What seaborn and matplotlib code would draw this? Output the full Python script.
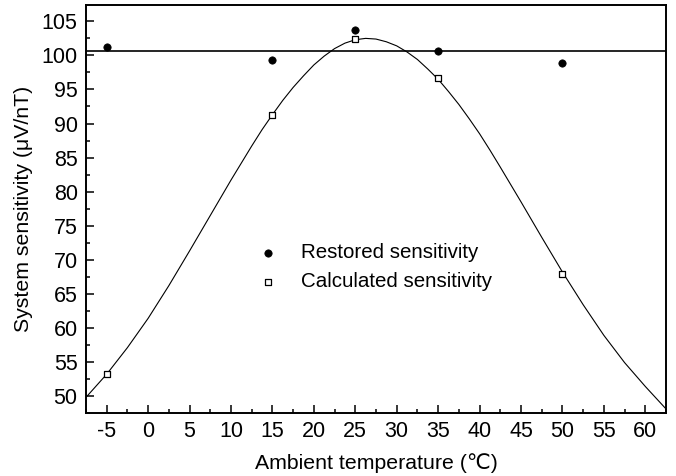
import numpy as np
import pandas as pd
import matplotlib
matplotlib.use('Agg')
import matplotlib.pyplot as plt
import seaborn as sns
from matplotlib.ticker import MultipleLocator

# Measured points
temps = [-5, 15, 25, 35, 50]
restored = [101.2, 99.3, 103.8, 100.7, 98.9]
calculated = [53.2, 91.2, 102.4, 96.7, 67.9]
restored_level = 100.6

# Fitted curve (finer steps around the peak)
fit_temps = [-7.5, -5, -2.5, 0, 2.5, 5, 7.5, 10, 12.5, 13.75, 15, 16.25,
             17.5, 18.75, 20, 21.25, 22.5, 23.75, 25, 26.25, 27.5, 28.75,
             30, 31.25, 32.5, 33.75, 35, 36.25, 37.5, 38.75, 40, 41.25,
             42.5, 45, 47.5, 50, 52.5, 55, 57.5, 60, 62.5]
fit_sens = [49.8, 53.2, 57.1, 61.4, 66.2, 71.3, 76.5, 81.7, 86.7, 89.1,
            91.3, 93.4, 95.3, 97.0, 98.6, 99.9, 101.0, 101.8, 102.3, 102.5,
            102.4, 102.0, 101.4, 100.5, 99.4, 98.0, 96.5, 94.7, 92.8, 90.7,
            88.5, 86.1, 83.6, 78.5, 73.3, 68.2, 63.4, 58.9, 54.9, 51.4, 48.1]

df_pts = pd.DataFrame({'T': temps, 'restored': restored, 'calculated': calculated})
df_fit = pd.DataFrame({'T': fit_temps, 'S': fit_sens})

sns.set_style('ticks')
plt.rcParams['font.family'] = ['Liberation Sans', 'DejaVu Sans']
plt.rcParams['axes.unicode_minus'] = False
plt.rcParams['text.color'] = 'black'
plt.rcParams['axes.labelcolor'] = 'black'
plt.rcParams['xtick.color'] = 'black'
plt.rcParams['ytick.color'] = 'black'
plt.rcParams['axes.edgecolor'] = 'black'

fig = plt.figure(figsize=(6.76, 4.76), dpi=100)
ax = fig.add_axes([86 / 676, 63 / 476, 580 / 676, 408 / 476])

sns.lineplot(data=df_fit, x='T', y='S', ax=ax, color='black', linewidth=0.8)
ax.axhline(restored_level, color='black', linewidth=1.2)

sns.scatterplot(data=df_pts, x='T', y='restored', ax=ax, marker='o', s=28,
                color='black', edgecolor='black', linewidth=0.5,
                label='Restored sensitivity', zorder=5)
sns.scatterplot(data=df_pts, x='T', y='calculated', ax=ax, marker='s', s=22,
                facecolor='white', edgecolor='black', linewidth=0.9,
                label='Calculated sensitivity', zorder=5)

ax.set_xlim(-7.5, 62.5)
ax.set_ylim(47.5, 107.4)
ax.xaxis.set_major_locator(MultipleLocator(5))
ax.xaxis.set_minor_locator(MultipleLocator(2.5))
ax.yaxis.set_major_locator(MultipleLocator(5))
ax.yaxis.set_minor_locator(MultipleLocator(2.5))
ax.tick_params(which='both', direction='in', width=1.1, labelsize=15.5,
               top=False, right=False, pad=6, colors='black')
ax.tick_params(which='major', length=6)
ax.tick_params(which='minor', length=3)
for sp in ax.spines.values():
    sp.set_linewidth(1.4)
    sp.set_color('black')

ax.set_xlabel('Ambient temperature (℃)', fontsize=15.3, labelpad=8)
ax.set_ylabel('System sensitivity (μV/nT)', fontsize=15.3, labelpad=6)

ax.legend(loc='center', bbox_to_anchor=(0.489, 0.357), frameon=False,
          fontsize=14.8, handletextpad=0.6, labelspacing=0.5)

fig.savefig('out.png', dpi=100)
